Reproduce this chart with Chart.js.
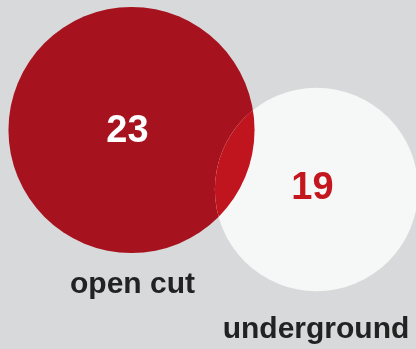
<!DOCTYPE html>
<html>
<head>
<meta charset="utf-8">
<script src="https://cdn.jsdelivr.net/npm/chart.js@4/dist/chart.umd.min.js"></script>
<style>
  html, body { margin: 0; padding: 0; background: #d8d9da; }
  canvas { display: block; }
</style>
</head>
<body>
<canvas id="venn" width="416" height="349"></canvas>
<script>
// mine counts by type
const categories = ['open cut', 'underground'];
const counts = [23, 19];

// layout (pixels on the hidden x/y scales)
const PX_PER_UNIT = 5.35;
const centers = [{ x: 131.5, y: 130 }, { x: 316.5, y: 189.5 }];
const numberOffset = [{ dx: -4, dy: 1 }, { dx: -4, dy: -2 }];
const labelPos = [{ x: 132.5, y: 293 }, { x: 316, y: 338 }];

const fills = ['#a6121e', '#f6f7f7'];
const overlapFill = '#c0141f';
const numberColors = ['#ffffff', '#c4161f'];
const FONT = '"Liberation Sans", Arial, Helvetica, sans-serif';

const points = counts.map((v, i) => ({ x: centers[i].x, y: centers[i].y, r: v * PX_PER_UNIT }));

const vennLabels = {
    id: 'vennLabels',
    afterDatasetsDraw(chart) {
        const ctx = chart.ctx;
        const els = chart.getDatasetMeta(0).data;
        const a = els[0], b = els[1];

        // lens where the two circles meet
        ctx.save();
        ctx.beginPath();
        ctx.arc(a.x, a.y, a.options.radius, 0, Math.PI * 2);
        ctx.clip();
        ctx.beginPath();
        ctx.arc(b.x, b.y, b.options.radius, 0, Math.PI * 2);
        ctx.fillStyle = overlapFill;
        ctx.fill();
        ctx.restore();

        ctx.save();
        ctx.textAlign = 'center';
        els.forEach((el, i) => {
            ctx.font = 'bold 38px ' + FONT;
            ctx.textBaseline = 'middle';
            ctx.fillStyle = numberColors[i];
            ctx.fillText(String(counts[i]), el.x + numberOffset[i].dx, el.y + numberOffset[i].dy + 1);

            ctx.font = 'bold 30px ' + FONT;
            ctx.textBaseline = 'alphabetic';
            ctx.fillStyle = '#222222';
            ctx.fillText(categories[i], labelPos[i].x, labelPos[i].y);
        });
        ctx.restore();
    }
};

new Chart(document.getElementById('venn'), {
    type: 'bubble',
    data: {
        labels: categories,
        datasets: [{
            data: points,
            backgroundColor: fills,
            borderWidth: 0,
            hoverBorderWidth: 0,
            hoverRadius: 0
        }]
    },
    options: {
        responsive: false,
        animation: false,
        devicePixelRatio: 1,
        events: [],
        layout: { padding: 0, autoPadding: false },
        scales: {
            x: { type: 'linear', min: 0, max: 416, display: false },
            y: { type: 'linear', min: 0, max: 349, reverse: true, display: false }
        },
        plugins: {
            legend: { display: false },
            tooltip: { enabled: false }
        },
        clip: false
    },
    plugins: [vennLabels]
});
</script>
</body>
</html>
